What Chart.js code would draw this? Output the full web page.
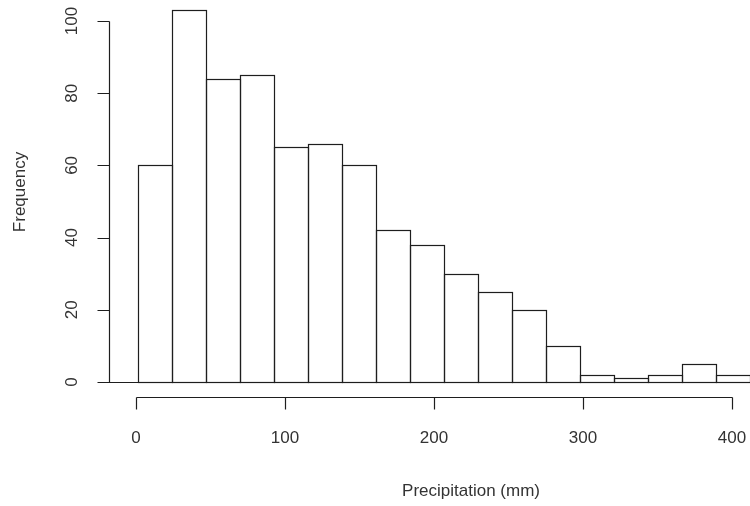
<!DOCTYPE html>
<html><head><meta charset="utf-8">
<script src="https://cdn.jsdelivr.net/npm/chart.js@4/dist/chart.umd.min.js"></script>
<style>html,body{margin:0;padding:0;background:#fff}canvas{display:block}</style>
</head><body>
<canvas id="c" width="750" height="506"></canvas>
<script>
// ---- data ----
const binStart = 1.1;      // left edge of first bin (mm)
const binWidth = 22.85;    // bin width (mm)
const frequencies = [60, 103, 84, 85, 65, 66, 60, 42, 38, 30, 25, 20, 10, 2, 1, 2, 5, 2];
const xTicks = [0, 100, 200, 300, 400];
const yTicks = [0, 20, 40, 60, 80, 100];
const xTitle = 'Precipitation (mm)';
const yTitle = 'Frequency';

const binCenters = frequencies.map((_, i) => binStart + binWidth * (i + 0.5));
const points = frequencies.map((f, i) => ({ x: binCenters[i], y: f }));

const LINE = '#1e1e1e';
const TEXT = '#333';
const FONT = '17px "Liberation Sans", Arial, sans-serif';

const rAxes = {
  id: 'rAxes',
  afterDatasetsDraw(chart) {
    const ctx = chart.ctx;
    const xs = chart.scales.x, ys = chart.scales.y;
    const area = chart.chartArea;
    ctx.save();
    ctx.strokeStyle = LINE;
    ctx.lineWidth = 1.2;
    // bar outlines
    const meta = chart.getDatasetMeta(0);
    meta.data.forEach(bar => {
      const l = Math.round(bar.x - bar.width / 2) + 0.5;
      const r = Math.round(bar.x + bar.width / 2) + 0.5;
      const t = Math.round(bar.y) + 0.5;
      const b = Math.round(bar.base) + 0.5;
      ctx.strokeRect(l, t, r - l, b - t);
    });
    // baseline
    const y0 = Math.round(ys.getPixelForValue(0)) + 0.5;
    ctx.beginPath();
    ctx.moveTo(area.left, y0); ctx.lineTo(area.right, y0);
    ctx.stroke();
    // y axis
    const ax = Math.round(area.left) + 0.5;
    ctx.beginPath();
    ctx.moveTo(ax, Math.round(ys.getPixelForValue(yTicks[0])) + 0.5);
    ctx.lineTo(ax, Math.round(ys.getPixelForValue(yTicks[yTicks.length - 1])) + 0.5);
    yTicks.forEach(v => {
      const py = Math.round(ys.getPixelForValue(v)) + 0.5;
      ctx.moveTo(ax - 12, py); ctx.lineTo(ax, py);
    });
    ctx.stroke();
    ctx.fillStyle = TEXT;
    ctx.font = FONT;
    ctx.textAlign = 'center';
    ctx.textBaseline = 'middle';
    yTicks.forEach(v => {
      const py = ys.getPixelForValue(v);
      ctx.save();
      ctx.translate(72, py);
      ctx.rotate(-Math.PI / 2);
      ctx.fillText(String(v), 0, 0);
      ctx.restore();
    });
    // x axis
    const axY = 397.5;
    ctx.beginPath();
    ctx.moveTo(Math.round(xs.getPixelForValue(xTicks[0])) + 0.5, axY);
    ctx.lineTo(Math.round(xs.getPixelForValue(xTicks[xTicks.length - 1])) + 0.5, axY);
    xTicks.forEach(v => {
      const px = Math.round(xs.getPixelForValue(v)) + 0.5;
      ctx.moveTo(px, axY); ctx.lineTo(px, axY + 12);
    });
    ctx.stroke();
    xTicks.forEach(v => {
      ctx.fillText(String(v), xs.getPixelForValue(v), 438);
    });
    // titles
    ctx.fillText(xTitle, 471, 491);
    ctx.save();
    ctx.translate(20, 192);
    ctx.rotate(-Math.PI / 2);
    ctx.fillText(yTitle, 0, 0);
    ctx.restore();
    ctx.restore();
  }
};

new Chart(document.getElementById('c'), {
  type: 'bar',
  data: {
    datasets: [{
      data: points,
      backgroundColor: '#ffffff',
      borderWidth: 0,
      categoryPercentage: 1.0,
      barPercentage: 1.0
    }]
  },
  options: {
    responsive: false,
    animation: false,
    events: [],
    layout: { padding: { left: 109, right: 0, top: 5, bottom: 124 } },
    plugins: { legend: { display: false }, tooltip: { enabled: false } },
    scales: {
      x: { type: 'linear', display: false, min: -18.12, max: 412.1, offset: false },
      y: { display: false, min: 0, max: 104.43 }
    }
  },
  plugins: [rAxes]
});
</script>
</body></html>
